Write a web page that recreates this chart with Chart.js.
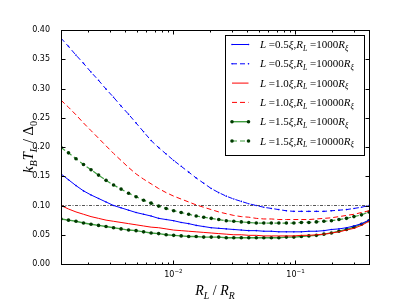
<!DOCTYPE html>
<html>
<head>
<meta charset="utf-8">
<script src="https://cdn.jsdelivr.net/npm/chart.js@4.4.0/dist/chart.umd.min.js"></script>
<style>
  html, body { margin: 0; padding: 0; background: #fff; }
  #wrap { width: 411px; height: 308px; position: relative; }
</style>
</head>
<body>
<div id="wrap"><canvas id="chart"></canvas></div>
<script>
// R_L / R_R sample points (log spaced)
const rRatio = [0.0012, 0.001382, 0.001592, 0.001835, 0.002114, 0.002436, 0.002806, 0.003234,
  0.003725, 0.004292, 0.004946, 0.005699, 0.006566, 0.007568, 0.00872, 0.01005, 0.01158, 0.01334,
  0.01537, 0.01771, 0.02041, 0.02351, 0.02709, 0.03122, 0.03597, 0.04144, 0.04775, 0.05502,
  0.06339, 0.07305, 0.08417, 0.09696, 0.1117, 0.1287, 0.1483, 0.1709, 0.1969, 0.2269, 0.2614,
  0.3012, 0.3471, 0.4];

// k_B T_L / Delta_0
const blueSolid = [0.154, 0.144, 0.134, 0.125, 0.118, 0.112, 0.106, 0.100, 0.096, 0.092,
  0.088, 0.085, 0.082, 0.078, 0.076, 0.074, 0.071, 0.069, 0.066, 0.064,
  0.062, 0.061, 0.060, 0.059, 0.058, 0.057, 0.057, 0.056, 0.056, 0.055,
  0.055, 0.055, 0.055, 0.056, 0.056, 0.057, 0.059, 0.060, 0.062, 0.065, 0.069, 0.075];
const blueDashed = [0.386, 0.372, 0.357, 0.343, 0.328, 0.314, 0.299, 0.285, 0.270, 0.256,
  0.241, 0.226, 0.211, 0.199, 0.188, 0.177, 0.167, 0.157, 0.147, 0.138,
  0.129, 0.122, 0.116, 0.111, 0.107, 0.103, 0.100, 0.097, 0.095, 0.093,
  0.091, 0.090, 0.090, 0.090, 0.090, 0.090, 0.091, 0.092, 0.093, 0.095, 0.097, 0.100];
const redSolid = [0.100, 0.094, 0.089, 0.085, 0.081, 0.078, 0.075, 0.073, 0.071, 0.069,
  0.067, 0.065, 0.063, 0.062, 0.060, 0.058, 0.057, 0.056, 0.055, 0.054,
  0.053, 0.052, 0.051, 0.050, 0.050, 0.049, 0.049, 0.048, 0.048, 0.048,
  0.048, 0.048, 0.049, 0.049, 0.050, 0.051, 0.053, 0.055, 0.058, 0.061, 0.066, 0.073];
const redDashed = [0.280, 0.268, 0.255, 0.241, 0.228, 0.215, 0.202, 0.189, 0.177, 0.165,
  0.154, 0.145, 0.137, 0.129, 0.122, 0.116, 0.111, 0.106, 0.101, 0.097,
  0.093, 0.089, 0.086, 0.083, 0.081, 0.080, 0.078, 0.077, 0.077, 0.076,
  0.076, 0.076, 0.076, 0.076, 0.077, 0.078, 0.079, 0.081, 0.083, 0.085, 0.088, 0.091];
const greenSolid = [0.077, 0.075, 0.073, 0.070, 0.068, 0.066, 0.064, 0.062, 0.060, 0.058,
  0.057, 0.055, 0.053, 0.052, 0.050, 0.049, 0.048, 0.047, 0.047, 0.046,
  0.046, 0.046, 0.045, 0.045, 0.045, 0.045, 0.045, 0.045, 0.045, 0.045,
  0.046, 0.046, 0.047, 0.048, 0.049, 0.051, 0.053, 0.056, 0.059, 0.063, 0.068, 0.074];
const greenDashed = [0.199, 0.190, 0.180, 0.170, 0.161, 0.152, 0.143, 0.135, 0.128, 0.121,
  0.115, 0.109, 0.104, 0.099, 0.095, 0.091, 0.088, 0.085, 0.082, 0.080,
  0.078, 0.076, 0.074, 0.073, 0.072, 0.071, 0.070, 0.070, 0.070, 0.070,
  0.070, 0.070, 0.071, 0.071, 0.072, 0.073, 0.074, 0.076, 0.078, 0.081, 0.084, 0.089];

// legend: L (in xi) and R_L (in R_xi)
const legendL = ['0.5', '0.5', '1.0', '1.0', '1.5', '1.5'];
const legendRL = ['1000', '10000', '1000', '10000', '1000', '10000'];

// axis
const xRange = [0.0012, 0.4];
const yRange = [0, 0.4];
const yStep = 0.05;
const xTickValues = [0.01, 0.1];
const xTickExps = ['\u22122', '\u22121'];
const refLevel = 0.1;

const SERIF = '"Liberation Serif", "DejaVu Serif", serif';
const SANS = '"DejaVu Sans", sans-serif';

function toPts(ys) {
  return rRatio.map((x, i) => ({ x: x, y: ys[i] }));
}

function series(ys, color, dash, ptRadius, ptColor, width) {
  return {
    data: toPts(ys),
    borderColor: color,
    borderWidth: width || 1,
    borderDash: dash,
    pointRadius: ptRadius,
    pointBackgroundColor: ptColor,
    pointBorderColor: ptColor,
    pointBorderWidth: 0,
    tension: 0,
    fill: false,
  };
}

const datasets = [
  series(blueSolid, '#0000ff', [], 0.8, '#0000ff'),
  series(blueDashed, '#0000ff', [5, 3], 0.8, '#0000ff'),
  series(redSolid, '#ff0000', [], 0, '#ff0000'),
  series(redDashed, '#ff0000', [5, 3], 0, '#ff0000'),
  series(greenSolid, 'rgba(0,128,0,0.75)', [], 1.8, '#003a00', 1.4),
  series(greenDashed, 'rgba(0,128,0,0.75)', [5, 3], 1.8, '#003a00', 1.2),
];
// horizontal reference line
datasets.push({
  data: [{ x: xRange[0], y: refLevel }, { x: xRange[1], y: refLevel }],
  borderColor: '#555',
  borderWidth: 1,
  borderDash: [3, 1.5, 1, 1.5],
  pointRadius: 0,
  tension: 0,
  fill: false,
});

// draw a little mathtext-like string: parts = [text, kind]
function mathWidth(ctx, parts, size) {
  let w = 0;
  parts.forEach(([t, k]) => {
    ctx.font = fontFor(k, size);
    w += ctx.measureText(t).width;
  });
  return w;
}
function fontFor(kind, size) {
  const sub = kind[0] === 's';
  const s = sub ? size * 0.7 : size;
  const it = kind[kind.length - 1] === 'i';
  return (it ? 'italic ' : '') + s.toFixed(1) + 'px ' + SERIF;
}
function drawMath(ctx, parts, x, y, size, align) {
  let cx = x;
  if (align === 'center') cx = x - mathWidth(ctx, parts, size) / 2;
  ctx.textAlign = 'left';
  ctx.textBaseline = 'alphabetic';
  parts.forEach(([t, k]) => {
    ctx.font = fontFor(k, size);
    const dy = k[0] === 's' ? size * 0.25 : 0;
    ctx.fillText(t, cx, y + dy);
    cx += ctx.measureText(t).width;
  });
}

const decor = {
  id: 'decor',
  afterDraw(chart) {
    const ctx = chart.ctx;
    const a = chart.chartArea;
    const xs = chart.scales.x, ys = chart.scales.y;
    const L = Math.round(a.left) + 0.5, R = Math.round(a.right) + 0.5;
    const T = Math.round(a.top) + 0.5, B = Math.round(a.bottom) + 0.5;
    ctx.save();
    ctx.strokeStyle = '#000';
    ctx.lineWidth = 1;
    ctx.setLineDash([]);

    // ticks, inward on all four sides
    ctx.beginPath();
    for (let d = -3; d <= 0; d++) {
      for (let m = 1; m <= 9; m++) {
        const v = Number((m * Math.pow(10, d)).toPrecision(3));
        if (v < xRange[0] || v > xRange[1]) continue;
        const px = Math.round(xs.getPixelForValue(v)) + 0.5;
        const len = m === 1 ? 4 : 2;
        ctx.moveTo(px, B); ctx.lineTo(px, B - len);
        ctx.moveTo(px, T); ctx.lineTo(px, T + len);
      }
    }
    for (let v = yRange[0]; v <= yRange[1] + 1e-9; v += yStep) {
      const py = Math.round(ys.getPixelForValue(v)) + 0.5;
      ctx.moveTo(L, py); ctx.lineTo(L + 4, py);
      ctx.moveTo(R, py); ctx.lineTo(R - 4, py);
    }
    ctx.stroke();

    // frame
    ctx.strokeRect(L, T, R - L, B - T);

    // x tick labels 10^-2, 10^-1
    ctx.fillStyle = '#000';
    ctx.textBaseline = 'alphabetic';
    xTickValues.forEach((v, i) => {
      const px = xs.getPixelForValue(v);
      ctx.font = '8px ' + SANS;
      const wb = ctx.measureText('10').width;
      ctx.font = '5.6px ' + SANS;
      const we = ctx.measureText(xTickExps[i]).width;
      const x0 = px - (wb + we) / 2;
      ctx.textAlign = 'left';
      ctx.font = '8px ' + SANS;
      ctx.fillText('10', x0, 277);
      ctx.font = '5.6px ' + SANS;
      ctx.fillText(xTickExps[i], x0 + wb, 272.5);
    });

    // axis titles
    drawMath(ctx, [['R', 'i'], ['L', 'si'], [' / ', 'r'], ['R', 'i'], ['R', 'si']],
      (a.left + a.right) / 2, 295, 14, 'center');
    ctx.save();
    ctx.translate(33, (a.top + a.bottom) / 2);
    ctx.rotate(-Math.PI / 2);
    drawMath(ctx, [['k', 'i'], ['B', 'si'], ['T', 'i'], ['L', 'si'], [' / ', 'r'], ['\u0394', 'r'], ['0', 'sr']],
      0, 0, 14.5, 'center');
    ctx.restore();

    // legend box
    const bx = 225.5, by = 35.5, bw = 139, bh = 120;
    ctx.fillStyle = '#fff';
    ctx.fillRect(bx, by, bw, bh);
    ctx.strokeStyle = '#000';
    ctx.strokeRect(bx, by, bw, bh);
    for (let k = 0; k < 6; k++) {
      const ds = chart.data.datasets[k];
      const ry = 44.5 + k * 19.3;
      ctx.strokeStyle = ds.borderColor;
      ctx.lineWidth = ds.borderWidth;
      ctx.setLineDash(ds.borderDash);
      ctx.beginPath();
      ctx.moveTo(232, ry); ctx.lineTo(248.5, ry);
      ctx.stroke();
      ctx.setLineDash([]);
      if (ds.pointRadius > 0) {
        ctx.fillStyle = ds.pointBackgroundColor;
        [232, 248.5].forEach(px => {
          ctx.beginPath();
          ctx.arc(px, ry, ds.pointRadius, 0, Math.PI * 2);
          ctx.fill();
        });
      }
      ctx.fillStyle = '#000';
      drawMath(ctx, [['L', 'i'], [' =', 'r'], [legendL[k], 'r'], ['\u03be', 'i'], [',', 'r'],
        ['R', 'i'], ['L', 'si'], [' =', 'r'], [legendRL[k], 'r'], ['R', 'i'], ['\u03be', 'si']],
        260, ry + 3.5, 11, 'left');
    }
    ctx.restore();
  },
};

new Chart(document.getElementById('chart'), {
  type: 'line',
  data: { datasets: datasets },
  options: {
    responsive: true,
    maintainAspectRatio: false,
    animation: false,
    layout: { padding: { left: 0, top: 30, right: 42, bottom: 0 } },
    plugins: { legend: { display: false }, tooltip: { enabled: false } },
    scales: {
      x: {
        type: 'logarithmic',
        min: xRange[0],
        max: xRange[1],
        grid: { display: false },
        border: { display: false },
        ticks: { display: false },
        afterFit: (s) => { s.height = 44; },
      },
      y: {
        min: yRange[0],
        max: yRange[1],
        grid: { display: false },
        border: { display: false },
        ticks: {
          stepSize: yStep,
          padding: 3,
          color: '#000',
          font: { family: 'DejaVu Sans', size: 8 },
          callback: (v) => Number(v).toFixed(2),
        },
        afterFit: (s) => { s.width = 61; },
      },
    },
  },
  plugins: [decor],
});
</script>
</body>
</html>
